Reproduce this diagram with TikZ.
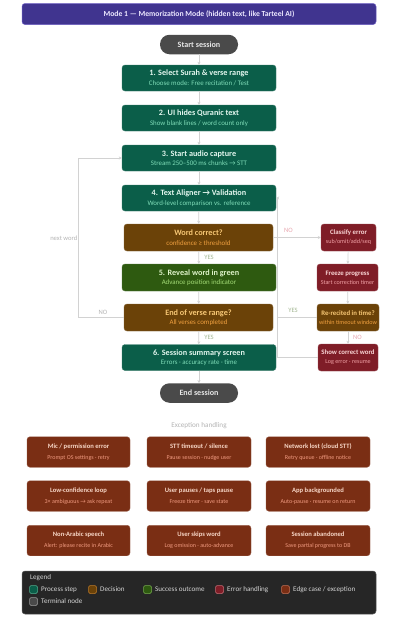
\documentclass[tikz,border=0pt]{standalone}
\usepackage{fontspec}
\setmainfont{Carlito}
\usetikzlibrary{arrows.meta}
\definecolor{procF}{HTML}{0B5E49}
\definecolor{procT}{HTML}{E2F6EE}
\definecolor{procS}{HTML}{7FDDB8}
\definecolor{decF}{HTML}{6B4208}
\definecolor{decT}{HTML}{F7C775}
\definecolor{decS}{HTML}{F0A040}
\definecolor{sucF}{HTML}{2E5A10}
\definecolor{sucT}{HTML}{DDF2C8}
\definecolor{sucS}{HTML}{A5DD78}
\definecolor{errF}{HTML}{7F1D27}
\definecolor{errT}{HTML}{F9D5D5}
\definecolor{errS}{HTML}{F0A0A5}
\definecolor{edgF}{HTML}{7A2E14}
\definecolor{edgT}{HTML}{F7D6C6}
\definecolor{edgS}{HTML}{F09A80}
\definecolor{termF}{HTML}{4A4A4A}
\definecolor{termT}{HTML}{E6E6E6}
\definecolor{titF}{HTML}{40348F}
\definecolor{titB}{HTML}{6A5CC0}
\definecolor{titT}{HTML}{ECE8FF}
\definecolor{connC}{HTML}{D2D2D2}
\definecolor{lblG}{HTML}{B4B4B4}
\definecolor{lblY}{HTML}{A4B894}
\definecolor{lblN}{HTML}{E8A8B0}
\definecolor{legF}{HTML}{262626}
\definecolor{legB}{HTML}{5A5A5A}
\definecolor{legT}{HTML}{D4D4D4}
\newcommand{\bxt}[4]{{\fontsize{8.2}{9}\selectfont\bfseries\color{#1}#3}\\{\fontsize{6.9}{9}\selectfont\color{#2}#4}}
\newcommand{\sxt}[4]{{\fontsize{6.8}{9}\selectfont\bfseries\color{#1}#3}\\{\fontsize{6.1}{9}\selectfont\color{#2}#4}}
\newcommand{\ext}[4]{{\fontsize{6.6}{9}\selectfont\bfseries\color{#1}#3}\\{\fontsize{6}{9}\selectfont\color{#2}#4}}
\begin{document}
\begin{tikzpicture}[x=1pt,y=-1pt,
  base/.style={rounded corners=3pt,align=center,inner sep=0pt,anchor=center},
  big/.style={font=\fontsize{7}{9.5}\selectfont},
  small/.style={font=\fontsize{6}{9}\selectfont},
  exs/.style={font=\fontsize{6}{11}\selectfont},
  proc/.style={base,big,fill=procF,draw=procF!80!white,line width=0.4pt,minimum width=154pt,minimum height=26pt},
  dec/.style={base,big,fill=decF,draw=decF!80!white,line width=0.4pt,minimum width=149pt,minimum height=27pt},
  suc/.style={base,big,fill=sucF,draw=sucF!80!white,line width=0.4pt,minimum width=154pt,minimum height=27pt},
  term/.style={base,fill=termF,rounded corners=9.5pt,minimum width=78pt,minimum height=19.5pt,font=\fontsize{8.1}{9}\selectfont\bfseries,text=termT},
  err/.style={base,small,fill=errF,draw=errF!80!white,line width=0.4pt,minimum width=60pt,minimum height=27pt},
  sdec/.style={base,small,fill=decF,draw=decF!80!white,line width=0.4pt,minimum width=62pt,minimum height=27pt},
  edg/.style={base,exs,fill=edgF,draw=edgF!80!white,line width=0.4pt,minimum width=103pt,minimum height=30.5pt},
  conn/.style={draw=connC,line width=0.7pt},
  arr/.style={conn,-{Stealth[length=3pt,width=3pt]}},
  lbl/.style={font=\fontsize{6.6}{7}\selectfont,inner sep=0pt},
  sw/.style={rounded corners=1.5pt,minimum width=8pt,minimum height=8pt,inner sep=0pt,line width=0.5pt},
  legtxt/.style={font=\fontsize{7.1}{8}\selectfont,text=legT,inner sep=0pt,anchor=west}
]
\useasboundingbox (0,0) rectangle (411,637);
\fill[white] (0,0) rectangle (411,637);
% title
\node[base,fill=titF,draw=titB,line width=0.5pt,minimum width=354pt,minimum height=21pt,font=\fontsize{7.7}{8}\selectfont\bfseries,text=titT] (title) at (199,14) {Mode 1 — Memorization Mode (hidden text, like Tarteel AI)};
% main flow
\node[term] (start) at (199,44.5) {Start session};
\node[proc] (s1) at (199,78) {\bxt{procT}{procS}{1. Select Surah \& verse range}{Choose mode: Free recitation / Test}};
\node[proc] (s2) at (199,118) {\bxt{procT}{procS}{2. UI hides Quranic text}{Show blank lines / word count only}};
\node[proc] (s3) at (199,158) {\bxt{procT}{procS}{3. Start audio capture}{Stream 250–500 ms chunks → STT}};
\node[proc] (s4) at (199,198) {\bxt{procT}{procS}{4. Text Aligner → Validation}{Word-level comparison vs. reference}};
\node[dec] (wc) at (198.5,237.5) {\bxt{decT}{decS}{Word correct?}{confidence ≥ threshold}};
\node[suc] (s5) at (199,277.5) {\bxt{sucT}{sucS}{5. Reveal word in green}{Advance position indicator}};
\node[dec] (eov) at (198.5,317.5) {\bxt{decT}{decS}{End of verse range?}{All verses completed}};
\node[proc] (s6) at (199,357.5) {\bxt{procT}{procS}{6. Session summary screen}{Errors · accuracy rate · time}};
\node[term] (end) at (199,393) {End session};
% error branch
\node[err,minimum width=55pt] (ce) at (348.5,237.5) {\sxt{errT}{errS}{Classify error}{sub/omit/add/seq}};
\node[err,minimum width=61pt] (fr) at (347.5,277.5) {\sxt{errT}{errS}{Freeze progress}{Start correction timer}};
\node[sdec] (rr) at (348,317.5) {\sxt{decT}{decS}{Re-recited in time?}{within timeout window}};
\node[err,minimum width=60pt] (sc) at (348,357.5) {\sxt{errT}{errS}{Show correct word}{Log error · resume}};
% main arrows
\draw[arr] (start) -- (s1);
\draw[arr] (s1) -- (s2);
\draw[arr] (s2) -- (s3);
\draw[arr] (s3) -- (s4);
\draw[arr] (s4) -- (wc);
\draw[arr] (wc) -- (s5);
\draw[arr] (s5) -- (eov);
\draw[arr] (eov) -- (s6);
\draw[arr] (s6) -- (end);
\node[lbl,text=lblY] (ly1) at (209,257.5) {YES};
\node[lbl,text=lblY] (ly2) at (209,337.5) {YES};
% error branch arrows
\draw[arr] (wc) -- (ce);
\node[lbl,text=lblN] (ln1) at (288.5,230.5) {NO};
\draw[arr] (ce) -- (fr);
\draw[arr] (fr) -- (rr);
\draw[arr] (rr) -- (sc);
\node[lbl,text=lblN] (ln2) at (357.5,337.5) {NO};
\coordinate (j1) at (277,317.5);
\coordinate (j2) at (277,357.5);
\draw[arr] (rr.west) -- (j1) |- (s4.east);
\draw[conn] (sc.west) -- (j2) -- (j1);
\node[lbl,text=lblY] (ly3) at (293,310.5) {YES};
% next word loop
\coordinate (k1) at (78,317.5);
\coordinate (k2) at (78,158);
\draw[arr] (eov.west) -- (k1) -- (k2) -- (s3.west);
\node[lbl,text=lblG] (ln3) at (103,312) {NO};
\node[lbl,text=lblG,anchor=east] (lnw) at (77.5,238) {next word};
% exception handling
\node[font=\fontsize{7.2}{8}\selectfont,text=lblG,inner sep=0pt] (exh) at (199,425.5) {Exception handling};
\node[edg] (e1) at (78.5,452) {\ext{edgT}{edgS}{Mic / permission error}{Prompt OS settings · retry}};
\node[edg,minimum width=104pt] (e2) at (199,452) {\ext{edgT}{edgS}{STT timeout / silence}{Pause session · nudge user}};
\node[edg,minimum width=104pt] (e3) at (318,452) {\ext{edgT}{edgS}{Network lost (cloud STT)}{Retry queue · offline notice}};
\node[edg] (e4) at (78.5,496) {\ext{edgT}{edgS}{Low-confidence loop}{3× ambiguous → ask repeat}};
\node[edg,minimum width=104pt] (e5) at (199,496) {\ext{edgT}{edgS}{User pauses / taps pause}{Freeze timer · save state}};
\node[edg,minimum width=104pt] (e6) at (318,496) {\ext{edgT}{edgS}{App backgrounded}{Auto-pause · resume on return}};
\node[edg] (e7) at (78.5,540.5) {\ext{edgT}{edgS}{Non-Arabic speech}{Alert: please recite in Arabic}};
\node[edg,minimum width=104pt] (e8) at (199,540.5) {\ext{edgT}{edgS}{User skips word}{Log omission · auto-advance}};
\node[edg,minimum width=104pt] (e9) at (318,540.5) {\ext{edgT}{edgS}{Session abandoned}{Save partial progress to DB}};
% legend
\node[base,fill=legF,draw=legB,line width=0.5pt,minimum width=354pt,minimum height=43pt] (leg) at (199,592.5) {};
\node[legtxt] (legt) at (30,578) {Legend};
\node[sw,fill=procF,draw=procS!60!procF] (sw1) at (33.5,589.5) {};
\node[legtxt] (lt1) at (41,589.5) {Process step};
\node[sw,fill=decF,draw=decS!60!decF] (sw2) at (92.5,589.5) {};
\node[legtxt] (lt2) at (100,589.5) {Decision};
\node[sw,fill=sucF,draw=sucS!60!sucF] (sw3) at (147.5,589.5) {};
\node[legtxt] (lt3) at (155,589.5) {Success outcome};
\node[sw,fill=errF,draw=errS!60!errF] (sw4) at (219.5,589.5) {};
\node[legtxt] (lt4) at (227,589.5) {Error handling};
\node[sw,fill=edgF,draw=edgS!60!edgF] (sw5) at (285.5,589.5) {};
\node[legtxt] (lt5) at (293,589.5) {Edge case / exception};
\node[sw,fill=termF,draw=termT!50!termF] (sw6) at (33.5,601.5) {};
\node[legtxt] (lt6) at (41,601.5) {Terminal node};
\end{tikzpicture}
\end{document}
